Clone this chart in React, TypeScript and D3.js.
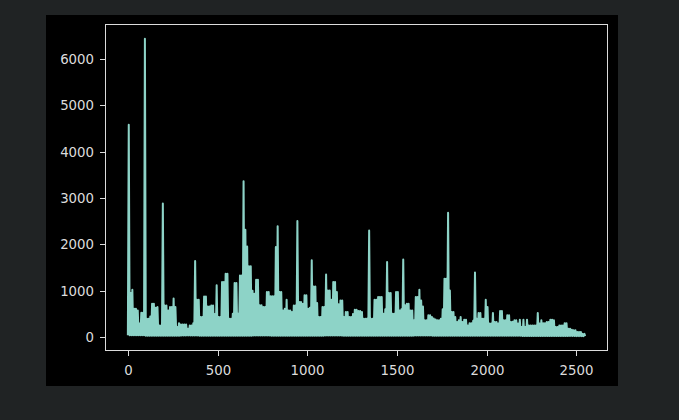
import React from 'react';
import * as d3 from 'd3';

// upper edge of the trace, one value per 10 samples
const upperEnvelope = [
  4580, 950, 1020, 610, 610, 575, 290, 525, 525, 6430,
  395, 395, 445, 720, 720, 630, 650, 250, 250, 2880,
  680, 680, 575, 650, 650, 830, 650, 215, 300, 270,
  270, 270, 270, 180, 250, 250, 300, 1640, 805, 805,
  430, 430, 875, 875, 660, 660, 680, 680, 500, 1115,
  430, 430, 1185, 1185, 1365, 1365, 395, 395, 505, 1165,
  1165, 505, 1330, 1330, 3360, 2315, 1955, 1525, 1525, 1000,
  935, 1235, 1235, 685, 685, 650, 650, 970, 970, 880,
  880, 880, 1940, 2390, 970, 970, 575, 610, 805, 575,
  575, 540, 680, 680, 2500, 755, 755, 720, 900, 900,
  610, 630, 1655, 1090, 1090, 735, 430, 430, 650, 650,
  1350, 1005, 1005, 805, 1185, 1185, 970, 705, 790, 790,
  430, 540, 540, 430, 430, 500, 590, 590, 560, 560,
  540, 395, 395, 400, 2300, 395, 395, 805, 805, 865,
  865, 865, 505, 600, 1620, 950, 950, 505, 505, 970,
  970, 575, 600, 1670, 685, 720, 720, 575, 575, 360,
  865, 865, 1020, 790, 660, 360, 360, 470, 470, 430,
  400, 380, 360, 360, 395, 600, 1260, 1260, 2680, 1005,
  540, 540, 430, 325, 360, 430, 325, 375, 375, 250,
  300, 300, 350, 1390, 395, 520, 520, 395, 395, 805,
  650, 290, 290, 520, 325, 325, 290, 560, 560, 360,
  360, 470, 470, 325, 330, 360, 360, 290, 375, 215,
  375, 215, 375, 250, 250, 250, 250, 250, 520, 290,
  360, 300, 300, 325, 325, 375, 375, 360, 215, 215,
  250, 250, 250, 300, 300, 180, 180, 160, 145, 145,
  110, 110, 110, 70, 70,
];

// lower edge of the trace, one value per 100 samples
const lowerEnvelope = [
  40, 30, 30, 35, 30, 30, 30, 35, 30, 30, 30, 35, 30,
  30, 30, 30, 35, 30, 30, 30, 30, 30, 25, 25, 25, 20,
];

const xTicks = [0, 500, 1000, 1500, 2000, 2500];
const yTicks = [0, 1000, 2000, 3000, 4000, 5000, 6000];

const W = 679;
const H = 420;
const fig = { left: 46, top: 15, right: 618, bottom: 386 };
const ax = { left: 105, top: 24, right: 608, bottom: 351 };
const lineColor = '#8dd3c7';
const fg = '#dcdcdc';
const font = '"DejaVu Sans", sans-serif';

type Pt = { i: number; v: number };

const series: Pt[] = [];
upperEnvelope.forEach((u, k) => {
  series.push({ i: k * 10, v: lowerEnvelope[Math.floor(k / 10)] });
  series.push({ i: k * 10 + 5, v: u });
});
series.push({ i: 2549, v: lowerEnvelope[lowerEnvelope.length - 1] });

const App: React.FC = () => {
  // matplotlib style 5% margins
  const [x0, x1] = d3.extent(series, d => d.i) as [number, number];
  const [y0, y1] = d3.extent(series, d => d.v) as [number, number];
  const xPad = (x1 - x0) * 0.05;
  const yPad = (y1 - y0) * 0.05;

  const xScale = d3.scaleLinear()
    .domain([x0 - xPad, x1 + xPad])
    .range([ax.left, ax.right]);
  const yScale = d3.scaleLinear()
    .domain([y0 - yPad, y1 + yPad])
    .range([ax.bottom, ax.top]);

  const line = d3.line<Pt>()
    .x(d => xScale(d.i))
    .y(d => yScale(d.v));

  return (
    <div style={{ position: 'fixed', left: 0, top: 0, width: W, height: H, background: '#202324' }}>
      <svg width={W} height={H} style={{ display: 'block' }}>
        <rect x={fig.left} y={fig.top} width={fig.right - fig.left} height={fig.bottom - fig.top} fill="#000" />
        <defs>
          <clipPath id="plot-clip">
            <rect x={ax.left} y={ax.top} width={ax.right - ax.left} height={ax.bottom - ax.top} />
          </clipPath>
        </defs>

        <path
          d={line(series) || ''}
          fill="none"
          stroke={lineColor}
          strokeWidth={2}
          strokeLinejoin="round"
          clipPath="url(#plot-clip)"
        />

        {/* frame */}
        <rect
          x={ax.left + 0.5}
          y={ax.top + 0.5}
          width={ax.right - ax.left - 1}
          height={ax.bottom - ax.top - 1}
          fill="none"
          stroke={fg}
          strokeWidth={1}
        />

        {/* x axis */}
        {xTicks.map(t => {
          const x = Math.round(xScale(t)) + 0.5;
          return (
            <g key={`x${t}`}>
              <line x1={x} x2={x} y1={ax.bottom} y2={ax.bottom + 5} stroke={fg} strokeWidth={1} />
              <text x={x} y={ax.bottom + 24} textAnchor="middle" fill={fg} fontSize={13.3} fontFamily={font}>
                {t}
              </text>
            </g>
          );
        })}

        {/* y axis */}
        {yTicks.map(t => {
          const y = Math.round(yScale(t)) + 0.5;
          return (
            <g key={`y${t}`}>
              <line x1={ax.left - 5} x2={ax.left} y1={y} y2={y} stroke={fg} strokeWidth={1} />
              <text x={ax.left - 11} y={y} dy="0.36em" textAnchor="end" fill={fg} fontSize={13.3} fontFamily={font}>
                {t}
              </text>
            </g>
          );
        })}
      </svg>
    </div>
  );
};

export default App;
